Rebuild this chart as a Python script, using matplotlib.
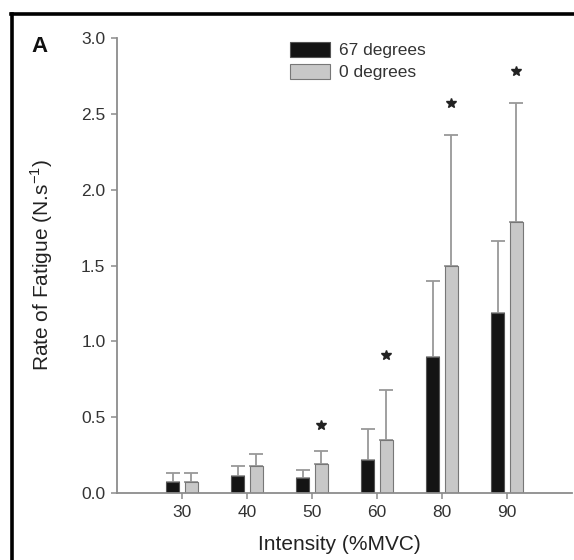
import numpy as np
import matplotlib
matplotlib.use('Agg')
import matplotlib.pyplot as plt
from matplotlib.lines import Line2D

plt.rcParams['font.family'] = ['Liberation Sans', 'DejaVu Sans']

# data
intensity = ['30', '40', '50', '60', '80', '90']
deg67 = [0.07, 0.11, 0.10, 0.22, 0.90, 1.19]
deg67_sd = [0.06, 0.07, 0.05, 0.20, 0.50, 0.47]
deg0 = [0.07, 0.18, 0.19, 0.35, 1.50, 1.79]
deg0_sd = [0.06, 0.08, 0.09, 0.33, 0.86, 0.78]
star_y = [np.nan, np.nan, 0.45, 0.91, 2.57, 2.78]

axis_grey = '#8c8c8c'
text_col = '#333333'

fig = plt.figure(figsize=(5.74, 5.60), dpi=100)
ax = fig.add_axes([117 / 574, 67 / 560, 455 / 574, 455 / 560])

x = np.arange(len(intensity))
w = 0.19
off = 0.146

ax.errorbar(x - off, deg67, yerr=[np.zeros(len(x)), deg67_sd], fmt='none',
            ecolor='#999999', elinewidth=1.3, capsize=5, capthick=1.3, zorder=1)
ax.errorbar(x + off, deg0, yerr=[np.zeros(len(x)), deg0_sd], fmt='none',
            ecolor='#999999', elinewidth=1.3, capsize=5, capthick=1.3, zorder=1)
ax.bar(x - off, deg67, w, color='#141414', edgecolor='#555555', linewidth=0.8,
       label='67 degrees', zorder=2)
ax.bar(x + off, deg0, w, color='#c8c8c8', edgecolor='#777777', linewidth=0.8,
       label='0 degrees', zorder=2)
ax.plot(x + off, star_y, linestyle='none', marker='*', markersize=7,
        color='#222222', zorder=3)

ax.set_xlim(-1, 6)
ax.set_ylim(0, 3.0)
ax.set_xticks(x)
ax.set_xticklabels(intensity)
ax.set_yticks([0, 0.5, 1.0, 1.5, 2.0, 2.5, 3.0])
ax.set_yticklabels(['0.0', '0.5', '1.0', '1.5', '2.0', '2.5', '3.0'])

for s in ['top', 'right']:
    ax.spines[s].set_visible(False)
for s in ['left', 'bottom']:
    ax.spines[s].set_color(axis_grey)
    ax.spines[s].set_linewidth(1.3)
ax.tick_params(direction='out', length=4.3, width=1.1, color=axis_grey,
               labelsize=12.5, labelcolor=text_col, pad=4)

ax.set_xlabel('Intensity (%MVC)', fontsize=15, color='#222222')
ax.xaxis.set_label_coords(0.489, -0.093)
ax.set_ylabel('Rate of Fatigue (N.s$^{\\mathregular{-1}}$)', fontsize=15,
              color='#222222')
ax.yaxis.set_label_coords(-0.137, 0.5)

ax.legend(loc='upper left', bbox_to_anchor=(290 / 574, 1 - 42 / 560),
          bbox_transform=fig.transFigure, frameon=False, fontsize=12.5,
          borderpad=0, borderaxespad=0, handlelength=2.3, handleheight=0.95,
          handletextpad=0.55, labelspacing=0.32, labelcolor=text_col)

fig.text(40 / 574, 1 - 46 / 560, 'A', fontsize=16, fontweight='bold',
         ha='center', va='center', color='#111111')

# black frame (left and top edges visible in the crop)
fig.add_artist(Line2D([12 / 574, 12 / 574], [0, 1 - 14 / 560],
                      color='black', linewidth=2.6, transform=fig.transFigure))
fig.add_artist(Line2D([10.5 / 574, 1], [1 - 14 / 560, 1 - 14 / 560],
                      color='black', linewidth=2.6, transform=fig.transFigure))

fig.savefig('out.png', dpi=100)
